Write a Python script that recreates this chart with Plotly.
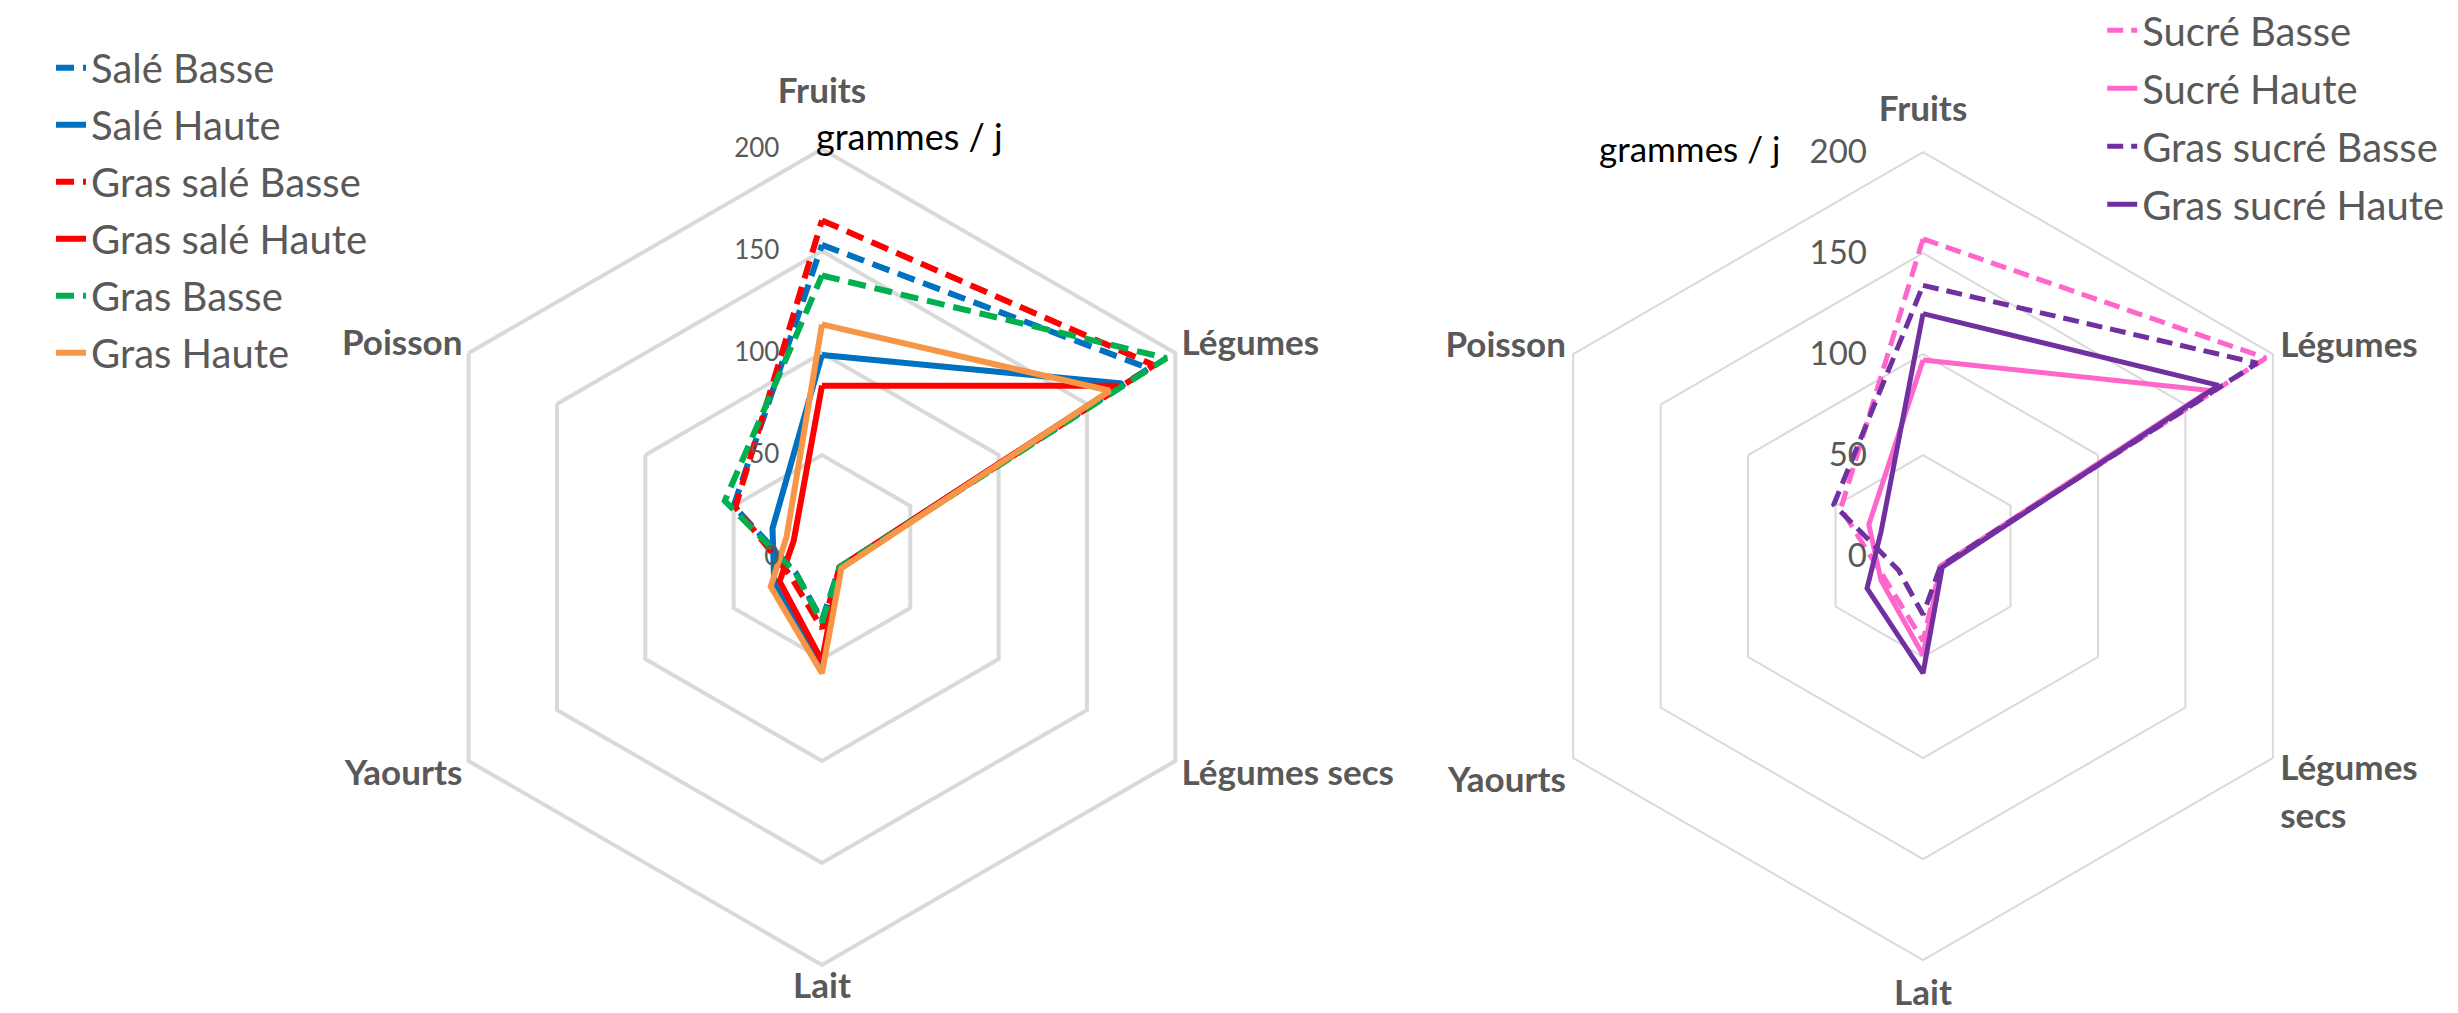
import plotly.graph_objects as go

categories = ["Fruits", "Légumes", "Légumes secs", "Lait", "Yaourts", "Poisson"]
categories_right = ["Fruits", "Légumes", "Légumes<br>secs", "Lait", "Yaourts", "Poisson"]
radial_ticks = [0, 50, 100, 150, 200]

# Left chart series (g / j)
sale_basse = [153, 185, 10, 31, 15, 50]
sale_haute = [99, 170, 10, 54, 27, 28]
gras_sale_basse = [165, 188, 10, 35, 18, 49]
gras_sale_haute = [84, 168, 10, 51, 24, 16]
gras_basse = [138, 195, 10, 32, 15, 55]
gras_haute = [114, 163, 11, 57, 29, 20]

# Right chart series (g / j)
sucre_basse = [157, 196, 10, 42, 22, 47]
sucre_haute = [97, 164, 10, 49, 24, 31]
gras_sucre_basse = [134, 191, 10, 29, 14, 51]
gras_sucre_haute = [120, 169, 11, 58, 32, 24]

left_series = [
    ("Salé Basse", sale_basse, "#0070C0", True),
    ("Salé Haute", sale_haute, "#0070C0", False),
    ("Gras salé Basse", gras_sale_basse, "#FF0000", True),
    ("Gras salé Haute", gras_sale_haute, "#FF0000", False),
    ("Gras Basse", gras_basse, "#00B050", True),
    ("Gras Haute", gras_haute, "#F79646", False),
]
right_series = [
    ("Sucré Basse", sucre_basse, "#FF66CC", True),
    ("Sucré Haute", sucre_haute, "#FF66CC", False),
    ("Gras sucré Basse", gras_sucre_basse, "#7030A0", True),
    ("Gras sucré Haute", gras_sucre_haute, "#7030A0", False),
]

FONT = "Lato"
GRAY = "#595959"
GRID = "#D9D9D9"
CAT_SIZE = 35


def span(text):
    return '<span style="font-size:%dpx">%s</span>' % (CAT_SIZE, text)


left_ticktext = [span(categories[0]) + "<br> "] + [span(c) for c in categories[1:]]
right_ticktext = ["<sup>" + span(categories_right[0]) + "</sup>"] + [span(c) for c in categories_right[1:]]

fig = go.Figure()

for i, (name, vals, color, dashed) in enumerate(left_series):
    fig.add_trace(go.Scatterpolar(
        r=vals + vals[:1], theta=categories + categories[:1],
        mode="lines", name=name, subplot="polar", legend="legend",
        legendgroup="L%d" % i,
        line=dict(color=color, width=6, dash="18px,9px" if dashed else "solid"),
        hoverinfo="name+r+theta",
    ))

for i, (name, vals, color, dashed) in enumerate(right_series):
    fig.add_trace(go.Scatterpolar(
        r=vals + vals[:1], theta=categories_right + categories_right[:1],
        mode="lines", name=name, subplot="polar2", legend="legend2",
        legendgroup="R%d" % i,
        line=dict(color=color, width=5, dash="16px,8px" if dashed else "solid"),
        hoverinfo="name+r+theta",
    ))


def polar_layout(domx, domy, cats, ticktext, basefs, gridw, tickfs, ticklen):
    return dict(
        domain=dict(x=domx, y=domy),
        gridshape="linear",
        bgcolor="white",
        angularaxis=dict(
            type="category", categoryarray=cats, rotation=90, direction="clockwise",
            tickvals=cats, ticktext=ticktext,
            showgrid=False, showline=True, linecolor=GRID, linewidth=gridw,
            ticks="", tickfont=dict(family=FONT, size=basefs, color=GRAY, weight="bold"),
        ),
        radialaxis=dict(
            range=[0, 200], tickvals=radial_ticks, angle=90, tickangle=90,
            side="counterclockwise",
            showgrid=True, gridcolor=GRID, gridwidth=gridw, showline=False,
            ticks="outside", ticklen=ticklen, tickcolor="rgba(0,0,0,0)",
            tickfont=dict(family=FONT, size=tickfs, color=GRAY),
        ),
    )


fig.update_layout(
    width=2458, height=1013,
    margin=dict(l=0, r=0, t=0, b=0, autoexpand=False),
    paper_bgcolor="white", plot_bgcolor="white",
    font=dict(family=FONT, color=GRAY),
    polar=polar_layout([0.1603, 0.5020], [0.0553, 0.8608], categories, left_ticktext,
                       26, 4, 26, 33),
    polar2=polar_layout([0.6082, 0.9500], [0.0602, 0.8578], categories_right, right_ticktext,
                        37, 2, 33, 44),
    legend=dict(x=0.0175, y=0.973, xanchor="left", yanchor="top",
                font=dict(family=FONT, size=40, color=GRAY),
                traceorder="grouped", tracegroupgap=2, bgcolor="rgba(0,0,0,0)"),
    legend2=dict(x=0.852, y=1.01, xanchor="left", yanchor="top",
                 font=dict(family=FONT, size=40, color=GRAY),
                 traceorder="grouped", tracegroupgap=3, bgcolor="rgba(0,0,0,0)"),
    showlegend=True,
    annotations=[
        dict(text="grammes / j", x=806 / 2458, y=(1013 - 128) / 1013, xref="paper", yref="paper",
             xanchor="left", yanchor="middle", showarrow=False,
             font=dict(family=FONT, size=36, color="black")),
        dict(text="grammes / j", x=1589 / 2458, y=(1013 - 140) / 1013, xref="paper", yref="paper",
             xanchor="left", yanchor="middle", showarrow=False,
             font=dict(family=FONT, size=35, color="black")),
    ],
)

fig.write_html("out.html")
